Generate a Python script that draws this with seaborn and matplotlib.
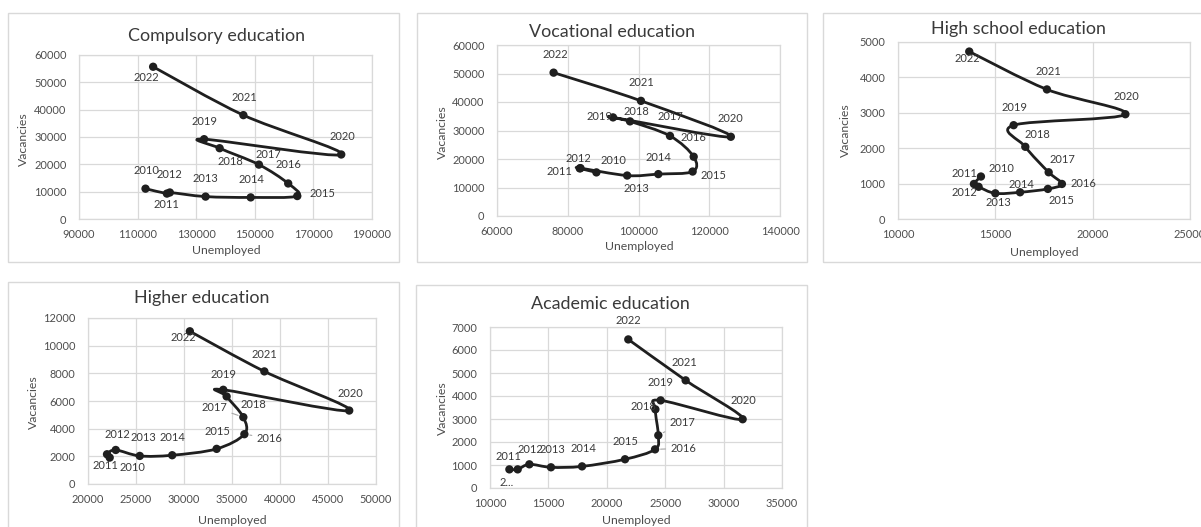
import numpy as np
import pandas as pd
import matplotlib
matplotlib.use("Agg")
import matplotlib.pyplot as plt
import seaborn as sns
from matplotlib.path import Path
from matplotlib.patches import PathPatch, Rectangle
from matplotlib.ticker import FuncFormatter

# ---------------------------------------------------------------- data
years = list(range(2010, 2023))

compulsory_unemployed = [112700, 120000, 121000, 133200, 148600, 164500, 161400,
                         151400, 138000, 132700, 179500, 146100, 115300]
compulsory_vacancies = [11100, 9300, 9700, 8200, 7900, 8400, 13000,
                        19900, 25900, 29200, 23600, 38000, 55700]

vocational_unemployed = [88100, 83400, 83600, 96800, 105600, 115300, 115600,
                         108900, 97600, 92800, 126100, 100700, 76000]
vocational_vacancies = [15300, 16700, 16800, 14200, 14700, 15600, 20800,
                        28100, 33200, 34600, 27800, 40400, 50300]

highschool_unemployed = [14260, 13900, 14140, 15000, 16270, 17700, 18420,
                         17740, 16540, 15940, 21680, 17650, 13660]
highschool_vacancies = [1200, 990, 910, 725, 755, 850, 990,
                        1320, 2040, 2650, 2960, 3660, 4730]

higher_unemployed = [22260, 21980, 22890, 25390, 28770, 33400, 36290,
                     36180, 34440, 34090, 47210, 38370, 30610]
higher_vacancies = [1910, 2150, 2460, 2030, 2080, 2540, 3600,
                    4830, 6330, 6810, 5310, 8140, 11040]

academic_unemployed = [11660, 12370, 13370, 15220, 17880, 21560, 24130,
                       24410, 24160, 24610, 31630, 26750, 21840]
academic_vacancies = [810, 810, 1030, 900, 940, 1250, 1680,
                      2290, 3420, 3810, 2990, 4680, 6460]

titles = ["Compulsory education", "Vocational education", "High school education",
          "Higher education", "Academic education"]

x_ticks = [list(range(90000, 190001, 20000)),
           list(range(60000, 140001, 20000)),
           list(range(10000, 25001, 5000)),
           list(range(20000, 50001, 5000)),
           list(range(10000, 35001, 5000))]
y_ticks = [list(range(0, 60001, 10000)),
           list(range(0, 60001, 10000)),
           list(range(0, 5001, 1000)),
           list(range(0, 12001, 2000)),
           list(range(0, 7001, 1000))]

year_labels = [[str(y) for y in years] for _ in range(5)]
year_labels[4][0] = "2..."

series = [(compulsory_unemployed, compulsory_vacancies),
          (vocational_unemployed, vocational_vacancies),
          (highschool_unemployed, highschool_vacancies),
          (higher_unemployed, higher_vacancies),
          (academic_unemployed, academic_vacancies)]

# ---------------------------------------------------------------- layout (pixels)
W, H = 1201, 527
axes_px = [(79, 55, 372, 219), (497, 45, 780, 216), (898, 42, 1190, 219),
           (88, 318, 376, 484), (490, 327, 782, 488)]
frames_px = [(8, 13, 399, 262), (417, 13, 807, 262), (823, 13, 1210, 262),
             (8, 282, 399, 540), (416, 285, 807, 540)]
title_px = [(216, 36), (612, 32), (1018, 29), (202, 298), (610, 304)]
xlabel_px = [(226, 250), (639, 247), (1044, 252), (232, 521), (636, 521)]
ylabel_px = [(23, 139), (442, 132), (845, 130), (33, 402), (442, 408)]

# data-label offsets (dx right, dy down) in pixels
label_off = [
    [(1, -18), (0, 11), (0, -18), (0, -18), (1, -18), (25, -3), (0, -19),
     (10, -10), (11, 13), (0, -18), (1, -18), (1, -18), (-7, 11)],
    [(17, -12), (-20, 3), (-2, -10), (9, 13), (0, -17), (21, 4), (0, -19),
     (0, -19), (6, -10), (-14, -1), (0, -18), (0, -18), (2, -18)],
    [(21, -8), (-9, -10), (-14, 6), (3, 9), (1, -8), (14, 12), (22, 0),
     (14, -13), (12, -12), (1, -18), (1, -18), (1, -18), (-2, 7)],
    [(23, 10), (-2, 11), (2, -15), (4, -18), (0, -18), (1, -17), (25, 4),
     (-29, -10), (27, 8), (0, -15), (1, -17), (0, -17), (-7, 6)],
    [(-3, 13), (-9, -13), (1, -15), (1, -18), (1, -18), (0, -18), (28, -1),
     (24, -13), (-12, -3), (0, -18), (1, -19), (-1, -18), (0, -19)],
]
# labels joined to their point by a leader line: (panel, index)
leaders = {(3, 6), (3, 7), (4, 6), (4, 7)}

GRID = "#d9d9d9"
TXT = "#4d4d4d"
LBL = "#3a3a3a"
LINE = "#1f1f1f"

sns.set_theme(style="white")
plt.rcParams["font.family"] = ["Lato", "DejaVu Sans"]


def smooth_path(xs, ys):
    """Cubic Bezier path through the points (Catmull-Rom style tangents)."""
    pts = np.column_stack([xs, ys]).astype(float)
    n = len(pts)
    verts = [pts[0]]
    codes = [Path.MOVETO]
    for i in range(n - 1):
        p0 = pts[i - 1] if i > 0 else pts[i]
        p1, p2 = pts[i], pts[i + 1]
        p3 = pts[i + 2] if i + 2 < n else pts[i + 1]
        verts += [p1 + (p2 - p0) / 6.0, p2 - (p3 - p1) / 6.0, p2]
        codes += [Path.CURVE4] * 3
    return Path(verts, codes)


fig = plt.figure(figsize=(W / 100, H / 100), dpi=100)
fig.patch.set_facecolor("white")

for k in range(5):
    x0, y0, x1, y1 = frames_px[k]
    fig.add_artist(Rectangle((x0 / W, 1 - y1 / H), (x1 - x0) / W, (y1 - y0) / H,
                             transform=fig.transFigure, fill=False,
                             edgecolor=GRID, linewidth=1.0))

    l, t, r, b = axes_px[k]
    ax = fig.add_axes([l / W, 1 - b / H, (r - l) / W, (b - t) / H])
    xs, ys = series[k]
    df = pd.DataFrame({"Unemployed": xs, "Vacancies": ys, "Year": years})

    ax.add_patch(PathPatch(smooth_path(df["Unemployed"], df["Vacancies"]),
                           fill=False, edgecolor=LINE, linewidth=2.0, zorder=3,
                           capstyle="round", joinstyle="round"))
    sns.scatterplot(data=df, x="Unemployed", y="Vacancies", ax=ax, color=LINE,
                    s=36, edgecolor="none", zorder=4, legend=False)

    ax.set_xlim(x_ticks[k][0], x_ticks[k][-1])
    ax.set_ylim(y_ticks[k][0], y_ticks[k][-1])
    ax.set_xticks(x_ticks[k])
    ax.set_yticks(y_ticks[k])
    fmt = FuncFormatter(lambda v, p: f"{v:.0f}")
    ax.xaxis.set_major_formatter(fmt)
    ax.yaxis.set_major_formatter(fmt)
    ax.tick_params(axis="both", length=0, labelsize=7.9, colors=TXT)
    ax.tick_params(axis="x", pad=7)
    ax.tick_params(axis="y", pad=9)
    ax.grid(True, color=GRID, linewidth=0.9)
    ax.set_axisbelow(True)
    for sp in ax.spines.values():
        sp.set_color(GRID)
        sp.set_linewidth(0.9)
    ax.set_xlabel("")
    ax.set_ylabel("")

    for i, (xv, yv) in enumerate(zip(df["Unemployed"], df["Vacancies"])):
        dx, dy = label_off[k][i]
        props = None
        if (k, i) in leaders:
            props = dict(arrowstyle="-", color="#a6a6a6", lw=0.8,
                         shrinkA=1, shrinkB=4)
        ax.annotate(year_labels[k][i], (xv, yv), xytext=(dx, -dy),
                    textcoords="offset pixels", ha="center", va="center",
                    fontsize=8.0, color=LBL, annotation_clip=False,
                    arrowprops=props, zorder=5)

    tx, ty = title_px[k]
    fig.text(tx / W, 1 - ty / H, titles[k], ha="center", va="center",
             fontsize=12.9, color=LBL)
    lx, ly = xlabel_px[k]
    fig.text(lx / W, 1 - ly / H, "Unemployed", ha="center", va="center",
             fontsize=8.8, color=TXT)
    vx, vy = ylabel_px[k]
    fig.text(vx / W, 1 - vy / H, "Vacancies", ha="center", va="center",
             rotation=90, fontsize=8.8, color=TXT)

fig.savefig("out.png", dpi=100, facecolor="white")
